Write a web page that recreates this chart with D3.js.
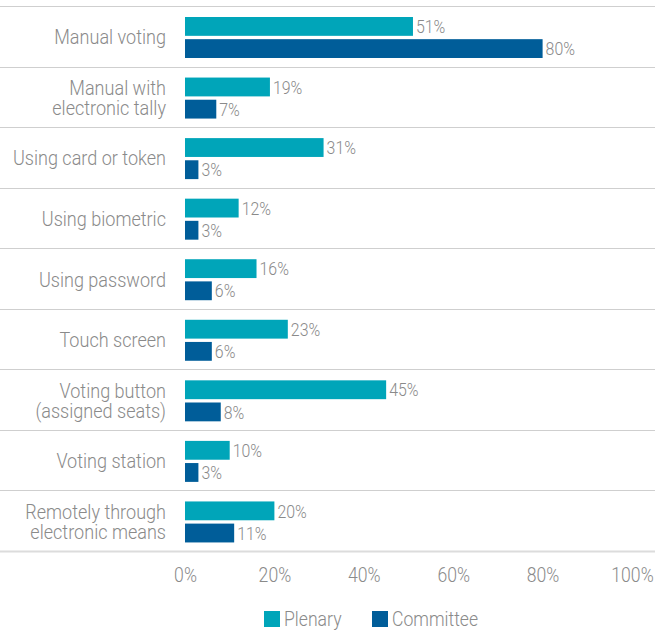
<!DOCTYPE html>
<html>
<head>
<meta charset="utf-8">
<script src="https://cdn.jsdelivr.net/npm/d3@7"></script>
<style>
  html, body { margin: 0; padding: 0; background: #fff; }
  svg { display: block; }
  text { font-family: Roboto, "Noto Sans", sans-serif; font-weight: 300; }
</style>
</head>
<body>
<svg id="chart" width="655" height="632"></svg>
<script>
const categories = [
  ["Manual voting"],
  ["Manual with", "electronic tally"],
  ["Using card or token"],
  ["Using biometric"],
  ["Using password"],
  ["Touch screen"],
  ["Voting button", "(assigned seats)"],
  ["Voting station"],
  ["Remotely through", "electronic means"]
];
const seriesNames = ["Plenary", "Committee"];
const plenary = [51, 19, 31, 12, 16, 23, 45, 10, 20];
const committee = [80, 7, 3, 3, 6, 6, 8, 3, 11];
const tickValues = [0, 20, 40, 60, 80, 100];
const colors = ["#00a5b9", "#005d99"];

const svg = d3.select("#chart");
const W = 655, H = 632;
const SX = 0.86; // horizontal condensing of text
const catKeys = categories.map(c => c.join(" "));
const series = [plenary, committee];

const x = d3.scaleLinear().domain([0, 100]).range([185, 632]);
const y = d3.scaleBand().domain(catKeys).range([6, 551]).padding(0);
const inner = d3.scaleBand().domain(seriesNames).range([11, 52]).paddingInner(0.15).paddingOuter(0);

const textColor = "#8a8a8a";

// gridlines (band boundaries)
const bounds = catKeys.map(k => y(k)).concat([y.range()[1]]);
svg.append("g").selectAll("line").data(bounds).join("line")
  .attr("x1", 0).attr("x2", W)
  .attr("y1", d => Math.round(d) + 0.5).attr("y2", d => Math.round(d) + 0.5)
  .attr("stroke", (d, i) => i === bounds.length - 1 ? "#dcdcdc" : "#cfcfcf")
  .attr("stroke-width", (d, i) => i === bounds.length - 1 ? 2 : 1);

// bars
const groups = svg.append("g").selectAll("g").data(catKeys).join("g")
  .attr("transform", d => `translate(0,${y(d)})`);

groups.each(function(k, ci) {
  const g = d3.select(this);
  seriesNames.forEach((s, si) => {
    const v = series[si][ci];
    g.append("rect")
      .attr("x", x(0))
      .attr("y", inner(s))
      .attr("width", x(v) - x(0))
      .attr("height", inner.bandwidth())
      .attr("fill", colors[si]);
    g.append("text")
      .attr("transform", `translate(${x(v) + 3},${inner(s) + inner.bandwidth() / 2}) scale(${SX},1)`)
      .attr("dy", "0.36em")
      .attr("font-size", 18.5)
      .attr("fill", textColor)
      .text(v + "%");
  });
  // category label
  const lines = categories[ci];
  const lh = 20;
  const cy = y.bandwidth() / 2 + 0.5;
  lines.forEach((ln, li) => {
    g.append("text")
      .attr("transform", `translate(166,${cy + (li - (lines.length - 1) / 2) * lh}) scale(${SX},1)`)
      .attr("text-anchor", "end")
      .attr("dy", "0.36em")
      .attr("font-size", 21)
      .attr("fill", textColor)
      .text(ln);
  });
});

// x axis
const xAxis = d3.axisBottom(x).tickValues(tickValues).tickFormat(d => d + "%").tickSize(0).tickPadding(0);
const ax = svg.append("g").attr("transform", "translate(0,575)").call(xAxis);
ax.select(".domain").remove();
ax.selectAll("text")
  .attr("y", 0)
  .attr("dy", "0.36em")
  .attr("transform", `scale(${SX},1)`)
  .attr("font-size", 20.5)
  .attr("fill", textColor)
  .style("font-family", "Roboto, sans-serif")
  .style("font-weight", 300);

// legend
const legendX = [264, 372];
const lg = svg.append("g").selectAll("g").data(seriesNames).join("g")
  .attr("transform", (d, i) => `translate(${legendX[i]},611)`);
lg.append("rect").attr("width", 16).attr("height", 16).attr("fill", (d, i) => colors[i]);
lg.append("text")
  .attr("transform", `translate(20,8) scale(${SX},1)`)
  .attr("dy", "0.36em")
  .attr("font-size", 20.5).attr("fill", textColor).text(d => d);
</script>
</body>
</html>
